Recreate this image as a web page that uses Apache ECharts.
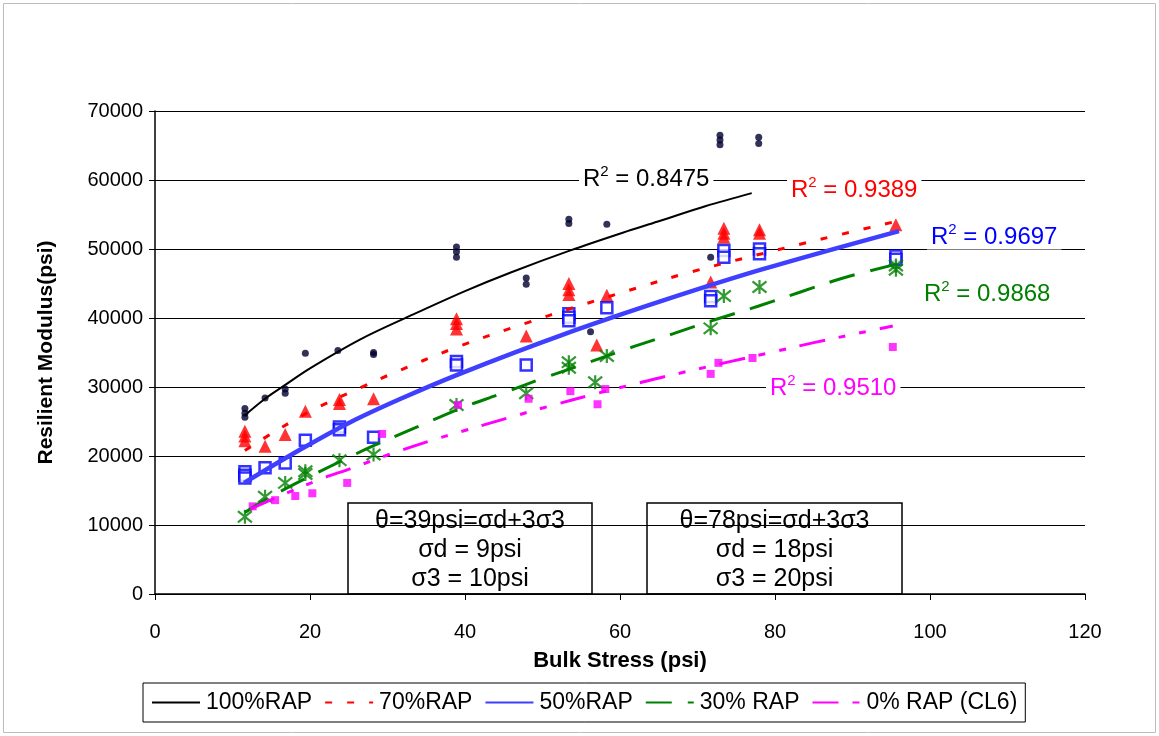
<!DOCTYPE html>
<html>
<head>
<meta charset="utf-8">
<script src="https://cdn.jsdelivr.net/npm/echarts@6/dist/echarts.min.js"></script>
<style>
html,body{margin:0;padding:0;background:#fff;}
#chart{width:1159px;height:736px;}
</style>
</head>
<body>
<div id="chart"></div>
<script>
// ---------- data ----------
const seriesNames = ['100%RAP', '70%RAP', '50%RAP', '30% RAP', '0% RAP (CL6)'];
const r2Labels = ['0.8475', '0.9389', '0.9697', '0.9868', '0.9510'];

// measured points
const pts100_x = [11.6, 11.6, 11.6, 14.2, 16.8, 16.8, 19.4, 23.6, 28.2, 28.2, 38.9, 38.9, 38.9, 47.9, 47.9, 53.4, 53.4, 56.2, 58.3, 71.7, 72.9, 72.9, 72.9, 77.9, 77.9];
const pts100_y = [26900, 26200, 25600, 28400, 29700, 29100, 34900, 35300, 35000, 34700, 50300, 49600, 48800, 45800, 44900, 54300, 53700, 38000, 53600, 48800, 66500, 65800, 65100, 66200, 65300];

const pts70_x = [11.6, 11.6, 11.6, 14.2, 16.8, 19.4, 23.8, 23.8, 28.2, 38.9, 38.9, 38.9, 47.9, 53.4, 53.4, 53.4, 57.0, 58.3, 71.7, 73.4, 73.4, 73.4, 78.0, 78.0, 95.6];
const pts70_y = [23600, 22900, 22200, 21400, 23100, 26500, 28200, 27600, 28300, 39900, 39200, 38400, 37400, 45000, 44100, 43400, 36100, 43300, 45200, 53000, 52300, 51700, 52800, 52300, 53500];

const pts50_x = [11.6, 11.6, 11.6, 14.2, 16.8, 19.4, 23.8, 23.8, 28.2, 38.9, 38.9, 47.9, 53.4, 53.4, 53.4, 58.3, 71.7, 71.7, 73.4, 73.4, 78.0, 78.0, 95.6, 95.6];
const pts50_y = [17700, 17200, 16800, 18300, 19000, 22300, 24200, 23800, 22700, 33700, 33200, 33200, 40600, 40100, 39600, 41500, 43100, 42500, 49800, 48800, 50000, 49300, 49000, 48500];

const pts30_x = [11.6, 14.2, 16.8, 19.4, 19.4, 23.8, 28.2, 38.9, 47.9, 53.4, 53.4, 56.8, 58.3, 71.7, 73.4, 78.0, 95.6, 95.6];
const pts30_y = [11200, 14100, 16100, 17800, 17400, 19400, 20200, 27400, 29100, 33600, 32800, 30700, 34500, 38500, 43200, 44500, 47600, 47000];

const pts0_x = [12.6, 15.5, 18.1, 20.3, 24.8, 29.3, 39.1, 48.2, 53.6, 57.1, 58.1, 71.7, 72.7, 77.1, 95.2];
const pts0_y = [12700, 13600, 14200, 14600, 16100, 23200, 27400, 28300, 29400, 27500, 29700, 31900, 33500, 34200, 35800];

// trend lines
const trend100_x = [11.6, 14.2, 16.8, 20, 26.5, 32.9, 40, 45.9, 53.6, 61.4, 65.2, 71, 77];
const trend100_y = [25900, 28300, 30300, 32700, 36900, 40300, 43900, 46600, 49800, 52750, 54100, 56200, 58100];

const trend70_x = [11.6, 15.1, 17.8, 20.9, 26.9, 30.1, 39, 48, 54, 62.9, 68.9, 84, 95.6];
const trend70_y = [20800, 23300, 25100, 27000, 30100, 31700, 35800, 39300, 41500, 44600, 46600, 50900, 54000];

const trend50_x = [11.5, 18.7, 25.2, 31.7, 39.4, 52.3, 65.2, 78.2, 96];
const trend50_y = [16100, 20900, 24900, 28300, 31950, 37450, 42400, 47000, 52600];

const trend30_x = [11.6, 14, 18.3, 23.9, 28.2, 33.6, 39.4, 44.6, 50.4, 55.8, 61.1, 66.8, 72.1, 77.8, 83.1, 88.8, 95.3];
const trend30_y = [11800, 13500, 16100, 19200, 21500, 24100, 26900, 29000, 31400, 33500, 35600, 37700, 39700, 41700, 43700, 45800, 47700];

const trend0_x = [12.3, 16.1, 21.7, 24.8, 30.4, 35.8, 39.4, 45.5, 50.8, 56.8, 62.3, 65.2, 73.9, 79.8, 85.3, 91, 95.2];
const trend0_y = [12300, 14200, 16800, 18000, 20300, 22300, 23500, 25500, 27200, 29000, 30550, 31350, 33600, 35100, 36500, 37850, 38840];

const xTicks = {min: 0, max: 120, interval: 20};
const yTicks = {min: 0, max: 70000, interval: 10000};

const box1Lines = ['θ=39psi=σd+3σ3', 'σd = 9psi', 'σ3 = 10psi'];
const box2Lines = ['θ=78psi=σd+3σ3', 'σd = 18psi', 'σ3 = 20psi'];

// ---------- build ----------
const zip = (xs, ys) => xs.map((x, i) => [x, ys[i]]);
const FONT = 'Liberation Sans, Arial, sans-serif';
const colors = ['#000000', '#ff0000', '#3f3fff', '#008000', '#ff00ff'];

const asterisk = 'path://M1,1L9,9M9,1L1,9M5,0L5,10';

const chart = echarts.init(document.getElementById('chart'), null, {renderer: 'canvas'});

function r2Text(x, y, value, color) {
  return {
    type: 'text', x: x, y: y, z: 50,
    style: {
      text: '{b|R}{s|2}{b| = ' + value + '}',
      verticalAlign: 'middle', textAlign: 'left',
      backgroundColor: '#fff', padding: [0, 4, 0, 4],
      rich: {
        b: {fontSize: 24, fontFamily: FONT, fill: color, lineHeight: 27, verticalAlign: 'bottom'},
        s: {fontSize: 15, fontFamily: FONT, fill: color, lineHeight: 15, verticalAlign: 'top'}
      }
    }
  };
}
function box(x, y, w, h, lines) {
  return {
    type: 'group', z: 40,
    children: [
      {type: 'rect', shape: {x: x, y: y, width: w, height: h}, style: {fill: '#fff', stroke: '#000', lineWidth: 1.5}},
      {type: 'text', x: x + w / 2, y: y + h / 2 + 2, style: {text: lines.join('\n'), textAlign: 'center', verticalAlign: 'middle', fontSize: 25, fontFamily: FONT, fill: '#000', lineHeight: 29}}
    ]
  };
}

const lineCommon = {type: 'line', symbol: 'none', smooth: 0.35, z: 5};

const option = {
  animation: false,
  backgroundColor: '#fff',
  grid: {left: 155, top: 111, right: 74, bottom: 142, containLabel: false},
  xAxis: {
    type: 'value', min: xTicks.min, max: xTicks.max, interval: xTicks.interval,
    name: 'Bulk Stress (psi)', nameLocation: 'middle', nameGap: 56,
    nameTextStyle: {fontSize: 22, fontWeight: 'bold', fontFamily: FONT, color: '#000'},
    axisLine: {show: true, lineStyle: {color: '#000', width: 1.5}},
    axisTick: {show: true, length: 6, lineStyle: {color: '#000'}},
    axisLabel: {fontSize: 20, fontFamily: FONT, color: '#000', margin: 28},
    splitLine: {show: false}
  },
  yAxis: {
    type: 'value', min: yTicks.min, max: yTicks.max, interval: yTicks.interval,
    name: 'Resilient Modulus(psi)', nameLocation: 'middle', nameGap: 98, nameRotate: 90,
    nameTextStyle: {fontSize: 21, fontWeight: 'bold', fontFamily: FONT, color: '#000'},
    axisLine: {show: true, lineStyle: {color: '#000', width: 1.5}},
    axisTick: {show: true, length: 6, lineStyle: {color: '#000'}},
    axisLabel: {fontSize: 20, fontFamily: FONT, color: '#000', margin: 12, formatter: v => String(v)},
    splitLine: {show: true, lineStyle: {color: '#000', width: 1}}
  },
  legend: {
    data: seriesNames,
    left: 143, top: 683,
    itemWidth: 48, itemHeight: 14, itemGap: 12,
    padding: [8, 8, 8, 8],
    borderColor: '#000', borderWidth: 1,
    itemStyle: {opacity: 0, borderWidth: 0},
    textStyle: {fontSize: 23, fontFamily: FONT, color: '#000', padding: [0, 0, 0, 1]}
  },
  series: [
    {name: 'pts100', type: 'scatter', data: zip(pts100_x, pts100_y), symbol: 'circle', symbolSize: 7,
     itemStyle: {color: '#000030'}},
    {name: 'pts70', type: 'scatter', data: zip(pts70_x, pts70_y), symbol: 'triangle', symbolSize: 13,
     itemStyle: {color: '#ff0000'}},
    {name: 'pts50', type: 'scatter', data: zip(pts50_x, pts50_y), symbol: 'rect', symbolSize: 11,
     itemStyle: {color: '#ffffff', borderColor: '#0000ff', borderWidth: 2.5}},
    {name: 'pts30', type: 'scatter', data: zip(pts30_x, pts30_y), symbol: asterisk, symbolSize: 14,
     itemStyle: {color: 'rgba(0,0,0,0)', borderColor: '#008000', borderWidth: 2.2}},
    {name: 'pts0', type: 'scatter', data: zip(pts0_x, pts0_y), symbol: 'rect', symbolSize: 8,
     itemStyle: {color: '#ff00ff'}},

    Object.assign({name: seriesNames[0], data: zip(trend100_x, trend100_y),
     lineStyle: {color: colors[0], width: 2}, itemStyle: {color: colors[0]}}, lineCommon),
    Object.assign({name: seriesNames[1], data: zip(trend70_x, trend70_y),
     lineStyle: {color: colors[1], width: 3, type: [7, 15]}, itemStyle: {color: colors[1]}}, lineCommon),
    Object.assign({name: seriesNames[2], data: zip(trend50_x, trend50_y),
     lineStyle: {color: colors[2], width: 4.5}, itemStyle: {color: colors[2]}}, lineCommon),
    Object.assign({name: seriesNames[3], data: zip(trend30_x, trend30_y),
     lineStyle: {color: colors[3], width: 3, type: [26, 16]}, itemStyle: {color: colors[3]}}, lineCommon),
    Object.assign({name: seriesNames[4], data: zip(trend0_x, trend0_y),
     lineStyle: {color: colors[4], width: 3, type: [26, 14, 7, 14, 7, 14]}, itemStyle: {color: colors[4]}}, lineCommon)
  ],
  graphic: [
    {type: 'rect', z: -10, shape: {x: 3.5, y: 3.5, width: 1152, height: 729}, style: {fill: 'none', stroke: '#bdbdbd', lineWidth: 1}},
    r2Text(579, 178, r2Labels[0], '#000000'),
    r2Text(787, 189, r2Labels[1], '#ff0000'),
    r2Text(927, 236, r2Labels[2], '#0000ff'),
    r2Text(920, 293, r2Labels[3], '#008000'),
    r2Text(766, 387, r2Labels[4], '#ff00ff'),
    box(348, 503, 244, 91, box1Lines),
    box(647, 503, 255, 91, box2Lines)
  ]
};
chart.setOption(option);
</script>
</body>
</html>
